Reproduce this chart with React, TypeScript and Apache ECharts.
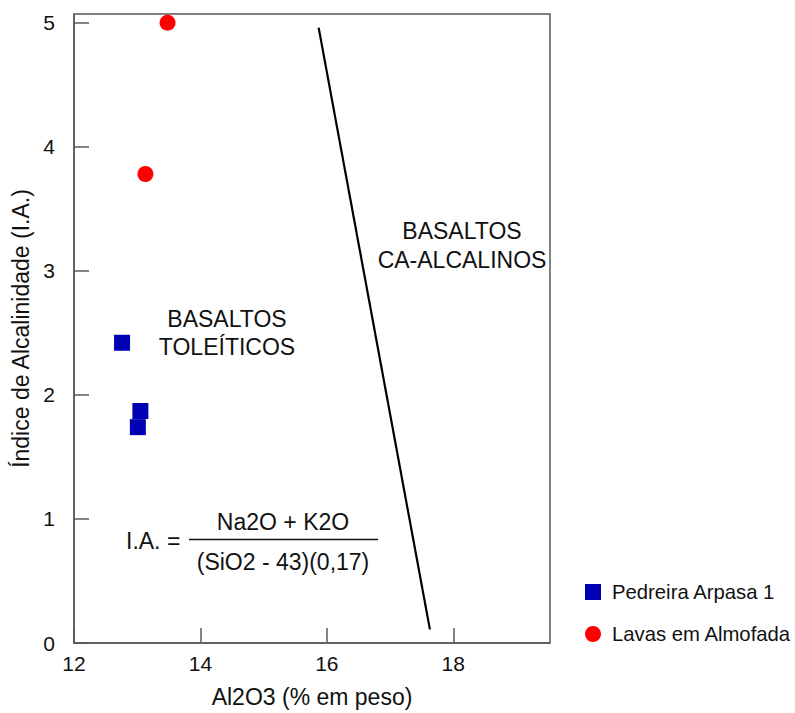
import React, { useEffect, useRef } from "react";
import * as echarts from "echarts";

const xTicks = [12, 14, 16, 18];
const yTicks = [0, 1, 2, 3, 4, 5];
const pedreiraArpasa: number[][] = [
  [12.76, 2.42],
  [13.05, 1.87],
  [13.01, 1.74],
];
const lavasAlmofada: number[][] = [
  [13.48, 5.0],
  [13.13, 3.78],
];
const divisionLine: number[][] = [
  [15.87, 4.96],
  [17.63, 0.11],
];
const xName = "Al2O3 (% em peso)";
const yName = "Índice de Alcalinidade (I.A.)";
const seriesNames = ["Pedreira Arpasa 1", "Lavas em Almofada"];

const FONT = "'Liberation Sans', Arial, sans-serif";
const AXIS_COLOR = "#5a5a5a";

export default function App() {
  const ref = useRef<HTMLDivElement>(null);
  useEffect(() => {
    if (!ref.current) return;
    const chart = echarts.init(ref.current, undefined, { renderer: "svg" });
    const axisCommon = {
      axisLine: { show: true, lineStyle: { color: AXIS_COLOR, width: 1.5 } },
      axisTick: { show: true, inside: true, length: 15, lineStyle: { color: AXIS_COLOR, width: 1.5 } },
      splitLine: { show: false },
      nameTextStyle: { fontFamily: FONT, fontSize: 23, color: "#111" },
    };
    chart.setOption({
      animation: false,
      textStyle: { fontFamily: FONT },
      grid: {
        left: 74,
        top: 14,
        right: 245,
        bottom: 69,
        show: true,
        borderColor: AXIS_COLOR,
        borderWidth: 1.5,
        backgroundColor: "transparent",
      },
      xAxis: {
        type: "value",
        min: 12,
        max: 19.53,
        name: xName,
        nameLocation: "middle",
        nameGap: 42,
        ...axisCommon,
        axisTick: { ...axisCommon.axisTick, customValues: xTicks },
        axisLabel: {
          customValues: xTicks,
          fontFamily: FONT,
          fontSize: 21,
          color: "#111",
          margin: 10,
        },
      },
      yAxis: {
        type: "value",
        min: 0,
        max: 5.07,
        name: yName,
        nameLocation: "middle",
        nameGap: 36,
        ...axisCommon,
        axisTick: { ...axisCommon.axisTick, customValues: yTicks },
        axisLabel: {
          customValues: yTicks,
          fontFamily: FONT,
          fontSize: 21,
          color: "#111",
          margin: 19,
        },
      },
      legend: {
        data: seriesNames,
        orient: "vertical",
        left: 580,
        top: 576,
        itemWidth: 16,
        itemHeight: 16,
        itemGap: 20,
        textStyle: {
          fontFamily: FONT,
          fontSize: 20.3,
          color: "#111",
          lineHeight: 22,
          padding: [0, 0, 0, 6],
        },
      },
      series: [
        {
          name: seriesNames[0],
          type: "scatter",
          symbol: "rect",
          symbolSize: 16,
          itemStyle: { color: "#0000B4", opacity: 1 },
          data: pedreiraArpasa,
        },
        {
          name: seriesNames[1],
          type: "scatter",
          symbol: "circle",
          symbolSize: 16,
          itemStyle: { color: "#FF0000", opacity: 1 },
          data: lavasAlmofada,
        },
        {
          name: "divisão",
          type: "line",
          symbol: "none",
          lineStyle: { color: "#000", width: 2.2 },
          data: divisionLine,
        },
      ],
      graphic: [
        {
          type: "text",
          x: 227,
          y: 333,
          style: {
            text: "BASALTOS\nTOLEÍTICOS",
            font: `23px ${FONT}`,
            fill: "#111",
            align: "center",
            verticalAlign: "middle",
            lineHeight: 28,
          },
        },
        {
          type: "text",
          x: 462,
          y: 245,
          style: {
            text: "BASALTOS\nCA-ALCALINOS",
            font: `23px ${FONT}`,
            fill: "#111",
            align: "center",
            verticalAlign: "middle",
            lineHeight: 29,
          },
        },
        {
          type: "text",
          x: 126,
          y: 541,
          style: {
            text: "I.A. =",
            font: `23px ${FONT}`,
            fill: "#111",
            align: "left",
            verticalAlign: "middle",
          },
        },
        {
          type: "text",
          x: 283,
          y: 522,
          style: {
            text: "Na2O + K2O",
            font: `23px ${FONT}`,
            fill: "#111",
            align: "center",
            verticalAlign: "middle",
          },
        },
        {
          type: "line",
          shape: { x1: 189, y1: 539.5, x2: 378, y2: 539.5 },
          style: { stroke: "#111", lineWidth: 1.6 },
        },
        {
          type: "text",
          x: 283,
          y: 562,
          style: {
            text: "(SiO2 - 43)(0,17)",
            font: `23px ${FONT}`,
            fill: "#111",
            align: "center",
            verticalAlign: "middle",
          },
        },
      ],
    });
    return () => chart.dispose();
  }, []);
  return <div ref={ref} style={{ width: 795, height: 713, position: "absolute", left: 0, top: 0 }} />;
}
